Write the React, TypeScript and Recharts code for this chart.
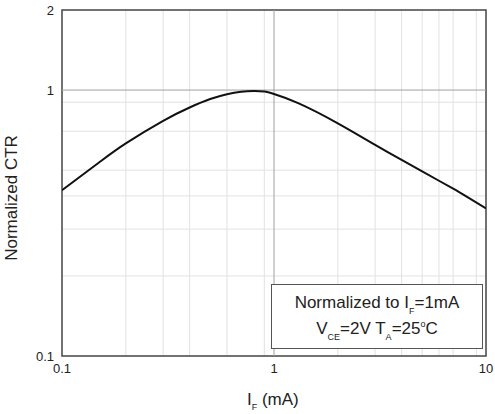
import React from "react";
import { LineChart, Line, XAxis, YAxis, CartesianGrid, ReferenceLine, ReferenceArea } from "recharts";

// forward current I_F (mA) and normalized CTR
const current = [0.1, 0.15, 0.2, 0.3, 0.4, 0.5, 0.6, 0.7, 0.8, 0.9, 1, 1.3, 2, 3, 4, 5, 6, 7, 8, 10];
const ctr = [0.42, 0.535, 0.63, 0.766, 0.86, 0.925, 0.965, 0.985, 0.991, 0.987, 0.966, 0.893, 0.75, 0.622, 0.546, 0.495, 0.456, 0.426, 0.4, 0.359];

const xTicks = [0.1, 1, 10];
const yTicks = [0.1, 1, 2];
const xMinor = [0.2, 0.3, 0.4, 0.5, 0.6, 0.7, 0.8, 0.9, 2, 3, 4, 5, 6, 7, 8, 9];
const yMinor = [0.2, 0.3, 0.4, 0.5, 0.6, 0.7, 0.8, 0.9];

const data = current.map((x, i) => ({ x, y: ctr[i] }));

const font = "'Liberation Sans', Arial, sans-serif";

const YTitle = () => {
    const cx = 17;
    const cy = 198;
    return (
        <text x={cx} y={cy} transform={`rotate(-90, ${cx}, ${cy})`} textAnchor="middle"
            fontSize={17} fill="#222" fontFamily={font}>
            Normalized CTR
        </text>
    );
};

const XTitle = () => {
    return (
        <text x={247} y={405} textAnchor="start" fontSize={17} fill="#222" fontFamily={font}>
            I<tspan fontSize={9} dy={5}>F</tspan><tspan dy={-5}> (mA)</tspan>
        </text>
    );
};

const sub: React.CSSProperties = { fontSize: 9, verticalAlign: -6, lineHeight: 0 };
const sup: React.CSSProperties = { fontSize: 9, verticalAlign: 7, lineHeight: 0 };

const App = () => {
    return (
        <div style={{ position: "absolute", left: 0, top: 0, width: 495, height: 414, background: "#fff", fontFamily: font }}>
            <LineChart width={495} height={414} data={data} margin={{ top: 10, right: 9, left: 0, bottom: 0 }}>
                <CartesianGrid stroke="#e2e2e2" horizontalValues={yMinor} verticalValues={xMinor} />
                <ReferenceLine x={1} stroke="#a0a0a0" />
                <ReferenceLine y={1} stroke="#a0a0a0" />
                <XAxis dataKey="x" type="number" scale="log" domain={[0.1, 10]} ticks={xTicks} allowDataOverflow
                    axisLine={false} tickLine={false} height={58}
                    tick={{ fontSize: 13, fill: "#222", fontFamily: font }} label={<XTitle />} />
                <YAxis type="number" scale="log" domain={[0.1, 2]} ticks={yTicks} allowDataOverflow
                    axisLine={false} tickLine={false} width={62}
                    tick={{ fontSize: 13, fill: "#222", fontFamily: font }} label={<YTitle />} />
                <ReferenceArea x1={0.1} x2={10} y1={0.1} y2={2} fill="none" stroke="#444" strokeWidth={1.5} ifOverflow="visible" />
                <Line dataKey="y" type="natural" stroke="#111" strokeWidth={2} dot={false} isAnimationActive={false} />
            </LineChart>
            <div style={{
                position: "absolute", left: 271, top: 284, width: 212, height: 65, border: "1px solid #555",
                background: "#fff", textAlign: "center", fontSize: 17, color: "#222", lineHeight: "26px", paddingTop: 5, boxSizing: "border-box"
            }}>
                <div>Normalized to I<span style={sub}>F</span>=1mA</div>
                <div>V<span style={sub}>CE</span>=2V T<span style={sub}>A</span>=25<span style={sup}>o</span>C</div>
            </div>
        </div>
    );
};

export default App;
